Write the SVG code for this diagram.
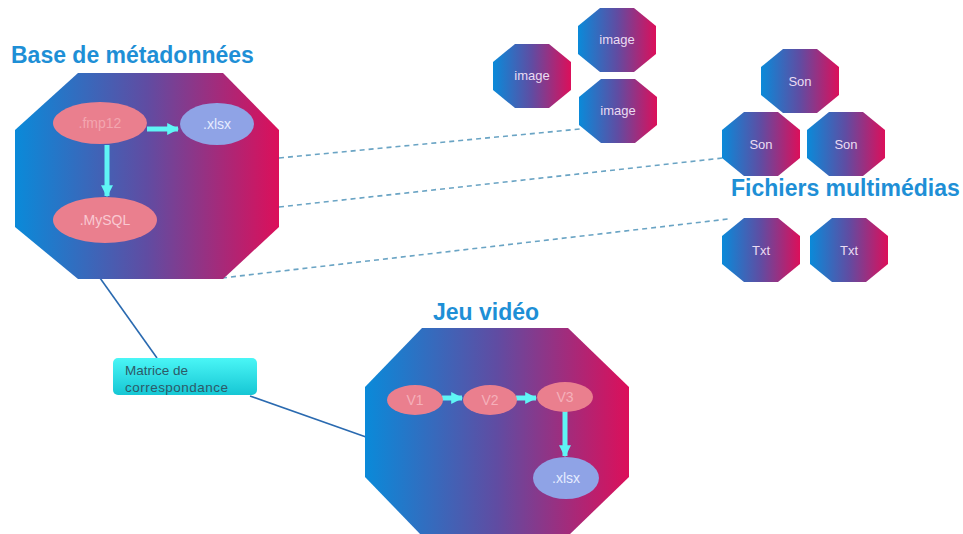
<svg xmlns="http://www.w3.org/2000/svg" xmlns:xlink="http://www.w3.org/1999/xlink" width="963" height="534" viewBox="0 0 963 534">
<defs>
<linearGradient id="g" x1="0" y1="0" x2="1" y2="0">
<stop offset="0" stop-color="#0a8ad9"/>
<stop offset="0.5" stop-color="#604ca2"/>
<stop offset="1" stop-color="#dc0f5a"/>
</linearGradient>
<linearGradient id="cy" x1="0" y1="0" x2="0" y2="1">
<stop offset="0" stop-color="#4af6f6"/>
<stop offset="1" stop-color="#16c6d4"/>
</linearGradient>
<polygon id="oct" points="-17,-32 17,-32 39,-14 39,14 17,32 -17,32 -39,14 -39,-14" fill="url(#g)"/>
<marker id="ah" viewBox="0 0 10 10" refX="9" refY="5" markerWidth="2.4" markerHeight="2.4" orient="auto" markerUnits="strokeWidth">
<path d="M0,0 L10,5 L0,10 z" fill="#5ff5f5"/>
</marker>
</defs>
<style>
.title{font-family:"Liberation Sans",Arial,sans-serif;font-weight:bold;font-size:23px;fill:#1e8fd6}
.ot{font-family:"Liberation Sans",Arial,sans-serif;font-size:13px;fill:#ecdcf2;text-anchor:middle}
.et{font-family:"Liberation Sans",Arial,sans-serif;font-size:14px;text-anchor:middle}
.pink{fill:#ea7f8e}
.blue{fill:#8fa3e6}
.arr{stroke:#5ff5f5;stroke-width:5;fill:none}
.dash{stroke:#6aa4c4;stroke-width:1.6;stroke-dasharray:5 4;fill:none}
.solid{stroke:#2a6ab0;stroke-width:1.6;fill:none}
</style>
<rect width="963" height="534" fill="#ffffff"/>

<g id="connectors">
<line class="dash" x1="279" y1="158" x2="580" y2="129"/>
<line class="dash" x1="279" y1="207" x2="723" y2="158"/>
<line class="dash" x1="222" y1="278" x2="728" y2="219"/>
<line class="solid" x1="100" y1="278" x2="157" y2="358"/>
<line class="solid" x1="250" y1="396" x2="366" y2="437"/>
</g>

<g id="base-metadonnees">
<text class="title" x="11" y="63">Base de métadonnées</text>
<polygon points="78,73 223,73 279,130 279,227 223,279 78,279 15,227 15,130" fill="url(#g)"/>
<line class="arr" x1="147" y1="129" x2="178" y2="129" marker-end="url(#ah)"/>
<line class="arr" x1="107" y1="145" x2="107" y2="196" stroke-width="6" marker-end="url(#ah)"/>
<ellipse class="pink" cx="100" cy="123" rx="47" ry="21"/>
<text class="et" x="100" y="128" fill="#f3a6b0">.fmp12</text>
<ellipse class="blue" cx="217" cy="124" rx="37" ry="21"/>
<text class="et" x="217" y="129" fill="#e6ecff">.xlsx</text>
<ellipse class="pink" cx="105" cy="220" rx="52" ry="23"/>
<text class="et" x="105" y="225" font-size="15" fill="#f9c9d2">.MySQL</text>
</g>

<g id="image-1"><use xlink:href="#oct" x="532" y="76"/><text class="ot" x="532" y="80">image</text></g>
<g id="image-2"><use xlink:href="#oct" x="617" y="40"/><text class="ot" x="617" y="44">image</text></g>
<g id="image-3"><use xlink:href="#oct" x="618" y="111"/><text class="ot" x="618" y="115">image</text></g>

<g id="son-1"><use xlink:href="#oct" x="800" y="81"/><text class="ot" x="800" y="86">Son</text></g>
<g id="son-2"><use xlink:href="#oct" x="761" y="144"/><text class="ot" x="761" y="149">Son</text></g>
<g id="son-3"><use xlink:href="#oct" x="846" y="144"/><text class="ot" x="846" y="149">Son</text></g>

<g id="fichiers-multimedias"><text class="title" x="731" y="196">Fichiers multimédias</text></g>

<g id="txt-1"><use xlink:href="#oct" x="761" y="250"/><text class="ot" x="761" y="255">Txt</text></g>
<g id="txt-2"><use xlink:href="#oct" x="849" y="250"/><text class="ot" x="849" y="255">Txt</text></g>

<g id="matrice">
<rect x="113" y="358" width="144" height="37" rx="5" fill="url(#cy)"/>
<text x="125" y="375" font-family="'Liberation Sans',Arial,sans-serif" font-size="13.5" fill="#2d5a68">Matrice de</text>
<text x="125" y="392" font-family="'Liberation Sans',Arial,sans-serif" font-size="13.5" fill="#2d5a68" textLength="103">correspondance</text>
</g>

<g id="jeu-video">
<text class="title" x="433" y="320">Jeu vidéo</text>
<polygon points="422,328 568,328 629,387 629,477 568,536 422,536 365,477 365,387" fill="url(#g)"/>
<line class="arr" x1="442" y1="398" x2="462" y2="398" marker-end="url(#ah)"/>
<line class="arr" x1="516" y1="398" x2="536" y2="398" marker-end="url(#ah)"/>
<line class="arr" x1="565" y1="410" x2="565" y2="456" stroke-width="4" marker-end="url(#ah)"/>
<ellipse class="pink" cx="415" cy="400" rx="28" ry="15"/>
<text class="et" x="415" y="405" fill="#f5b0ba">V1</text>
<ellipse class="pink" cx="490" cy="400" rx="27" ry="15"/>
<text class="et" x="490" y="405" fill="#f5b0ba">V2</text>
<ellipse class="pink" cx="565" cy="397" rx="28" ry="15"/>
<text class="et" x="565" y="402" fill="#f5b0ba">V3</text>
<ellipse class="blue" cx="566" cy="478" rx="33" ry="21"/>
<text class="et" x="566" y="483" fill="#e6ecff">.xlsx</text>
</g>
</svg>
